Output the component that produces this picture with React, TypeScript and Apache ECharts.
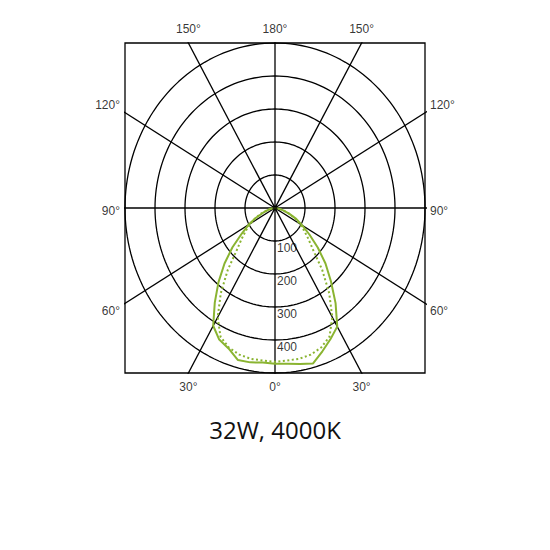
import { useEffect, useRef } from "react";
import * as echarts from "echarts";

// gamma angles (0° = straight down, positive = right side)
const angles = [
  -90, -85, -80, -75, -70, -65, -60, -55, -50, -45, -40, -35, -30, -25, -20, -15, -10, -5, 0,
  5, 10, 15, 20, 25, 30, 35, 40, 45, 50, 55, 60, 65, 70, 75, 80, 85, 90,
];
// luminous intensity, cd (solid curve)
const solidCd = [
  0, 6, 14, 25, 42, 70, 102, 135, 185, 238, 293, 350, 412, 440, 453, 477, 475, 470, 472,
  474, 480, 488, 462, 438, 415, 352, 290, 238, 186, 140, 104, 78, 50, 28, 15, 6, 0,
];
// luminous intensity, cd (dotted curve)
const dottedCd = [
  0, 7, 17, 30, 48, 72, 95, 118, 145, 180, 245, 315, 382, 430, 450, 460, 464, 464, 466,
  464, 464, 460, 450, 430, 382, 315, 245, 180, 145, 118, 95, 72, 48, 30, 17, 7, 0,
];

const radialTicks = [100, 200, 300, 400, 500];
const radialLabels = ["100", "200", "300", "400"];
const spokeAngles = [0, 30, 60, 90, 120, 150];
const angleLabels = [0, 30, 60, 90, 120, 150, 180];

const LIMIT = 500;
const GREEN = "#8ab431";
const INK = "#000";
const toRad = (d: number) => (d * Math.PI) / 180;

function toXY(angle: number, cd: number) {
  return [cd * Math.sin(toRad(angle)), -cd * Math.cos(toRad(angle))];
}

function angleLabelPoints() {
  const pts: any[] = [];
  angleLabels.forEach((a) => {
    const sides = a === 0 || a === 180 ? [1] : [-1, 1];
    sides.forEach((s) => {
      const ang = a * s;
      const sx = Math.sin(toRad(ang));
      const sy = -Math.cos(toRad(ang));
      const t = LIMIT / Math.max(Math.abs(sx), Math.abs(sy));
      const x = sx * t;
      const y = sy * t;
      let position = "top";
      let offset = [0, 0];
      if (Math.abs(Math.abs(y) - LIMIT) < 1e-6) {
        position = y > 0 ? "top" : "bottom";
      } else {
        position = x < 0 ? "left" : "right";
        offset = [0, y > 1 ? -8 : y < -1 ? 8 : 3];
      }
      pts.push({
        value: [x, y],
        label: { show: true, formatter: `${a}°`, position, distance: position === "top" || position === "bottom" ? 8 : 5, offset },
      });
    });
  });
  return pts;
}

export default function App() {
  const ref = useRef<HTMLDivElement | null>(null);

  useEffect(() => {
    if (!ref.current) return;
    const chart = echarts.init(ref.current, undefined, { renderer: "svg" });

    const circleSeries = radialTicks.map((r) => {
      const data: number[][] = [];
      for (let a = 0; a <= 360; a += 2) data.push(toXY(a, r));
      return {
        type: "line",
        data,
        symbol: "none",
        silent: true,
        z: 1,
        lineStyle: { color: INK, width: 1.3 },
      };
    });

    const spokeSeries = spokeAngles.map((a) => ({
      type: "line",
      data: [toXY(a, 1200), toXY(a + 180, 1200)],
      symbol: "none",
      silent: true,
      z: 1,
      lineStyle: { color: INK, width: 1.3 },
    }));

    const labelFont = {
      fontFamily: "Liberation Sans, Arial, sans-serif",
      fontSize: 12,
      color: "#000",
    };

    const option: echarts.EChartsOption = {
      animation: false,
      title: {
        text: "32W, 4000K",
        left: "center",
        top: 412,
        textStyle: { fontFamily: "Open Sans", fontSize: 24, fontWeight: "normal", color: "#111" },
      },
      grid: {
        left: 125,
        top: 43,
        width: 300,
        height: 330,
        show: true,
        borderColor: INK,
        borderWidth: 1.3,
        backgroundColor: "transparent",
      },
      xAxis: { type: "value", min: -LIMIT, max: LIMIT, show: false },
      yAxis: { type: "value", min: -LIMIT, max: LIMIT, show: false },
      series: [
        ...(circleSeries as any[]),
        ...(spokeSeries as any[]),
        {
          type: "line",
          data: angles.map((a, i) => toXY(a, dottedCd[i])),
          symbol: "none",
          silent: true,
          z: 3,
          lineStyle: { color: GREEN, width: 2, type: [2, 2.5] },
        },
        {
          type: "line",
          data: angles.map((a, i) => toXY(a, solidCd[i])),
          symbol: "none",
          silent: true,
          z: 4,
          lineStyle: { color: GREEN, width: 2 },
        },
        {
          type: "scatter",
          data: [[0, 0]],
          symbolSize: 5,
          silent: true,
          z: 5,
          itemStyle: { color: INK },
        },
        {
          type: "scatter",
          data: radialLabels.map((t, i) => ({ value: [0, -radialTicks[i]], name: t })),
          symbolSize: 0,
          silent: true,
          z: 6,
          label: {
            show: true,
            formatter: "{b}",
            position: [2, 1],
            align: "left",
            verticalAlign: "top",
            ...labelFont,
          },
        },
        {
          type: "scatter",
          data: angleLabelPoints(),
          symbolSize: 0,
          silent: true,
          clip: false,
          z: 6,
          label: labelFont,
        },
      ],
    };

    chart.setOption(option);
    return () => chart.dispose();
  }, []);

  return (
    <div
      ref={ref}
      style={{ position: "fixed", left: 0, top: 0, width: 550, height: 550, background: "#fff" }}
    />
  );
}
